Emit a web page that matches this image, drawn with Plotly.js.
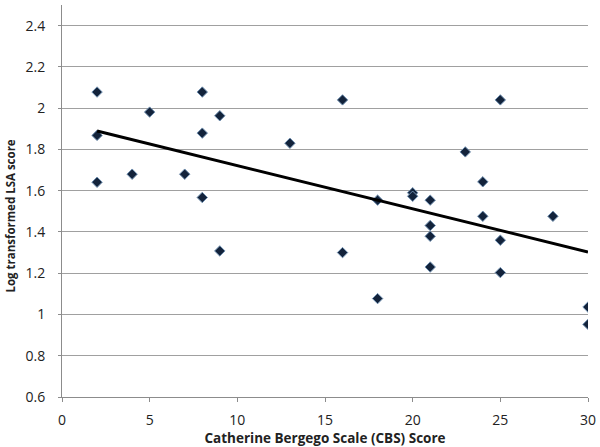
<!DOCTYPE html>
<html><head><meta charset="utf-8">
<script src="https://cdn.plot.ly/plotly-3.0.1.min.js"></script>
<style>html,body{margin:0;padding:0;background:#fff}#chart{width:600px;height:447px}</style>
</head><body><div id="chart"></div>
<script>
const cbsScore = [2,2,2,4,5,7,8,8,8,9,9,13,16,16,18,18,20,20,21,21,21,21,23,24,24,25,25,25,28,30,30];
const lsaLog = [2.078,1.868,1.641,1.68,1.981,1.68,2.078,1.879,1.567,1.963,1.308,1.83,2.04,1.30,1.554,1.077,1.59,1.573,1.554,1.431,1.379,1.23,1.788,1.643,1.476,2.04,1.36,1.203,1.476,1.036,0.952];
const trendX = [2, 30];
const trendY = [1.889, 1.303];
const xTicks = [0,5,10,15,20,25,30];
const yTicks = [0.6,0.8,1,1.2,1.4,1.6,1.8,2,2.2,2.4];

const font = "Open Sans, Liberation Sans, sans-serif";
Plotly.newPlot('chart', [
  {x: cbsScore, y: lsaLog, type:'scatter', mode:'markers',
   marker:{symbol:'diamond', size:8, color:'#13233b', line:{color:'#6f8fb0', width:1}}},
  {x: trendX, y: trendY, type:'scatter', mode:'lines', line:{color:'#000', width:3}}
], {
  width:600, height:447, showlegend:false,
  paper_bgcolor:'#fff', plot_bgcolor:'#fff',
  margin:{l:62, r:12, t:5, b:50},
  font:{family:font, color:'#222', size:14},
  xaxis:{range:[0,30], tickvals:xTicks, ticktext:xTicks.map(String), showgrid:false, zeroline:false,
    showline:true, linecolor:'#8c8c8c', linewidth:1, ticks:'outside', ticklen:4, tickcolor:'#8c8c8c',
    ticklabelstandoff:6,
    tickfont:{size:14, family:font, color:'#222'},
    title:{text:'<b>Catherine Bergego Scale (CBS) Score</b>', font:{size:13.5, family:font, color:'#222'}, standoff:1}},
  yaxis:{range:[0.6,2.5], tickvals:yTicks, ticktext:yTicks.map(v=>String(v)), showgrid:true, gridcolor:'#a0a0a0', gridwidth:1,
    zeroline:false, showline:true, linecolor:'#8c8c8c', linewidth:1, ticks:'outside', ticklen:3, tickcolor:'#8c8c8c',
    ticklabelstandoff:10,
    tickfont:{size:14, family:font, color:'#222'},
    title:{text:'<b>Log transformed LSA score</b>&nbsp;&nbsp;&nbsp;&nbsp;&nbsp;&nbsp;&nbsp;&nbsp;&nbsp;&nbsp;', font:{size:11.5, family:font, color:'#222'}, standoff:7}}
}, {displayModeBar:false, staticPlot:true});
</script></body></html>
